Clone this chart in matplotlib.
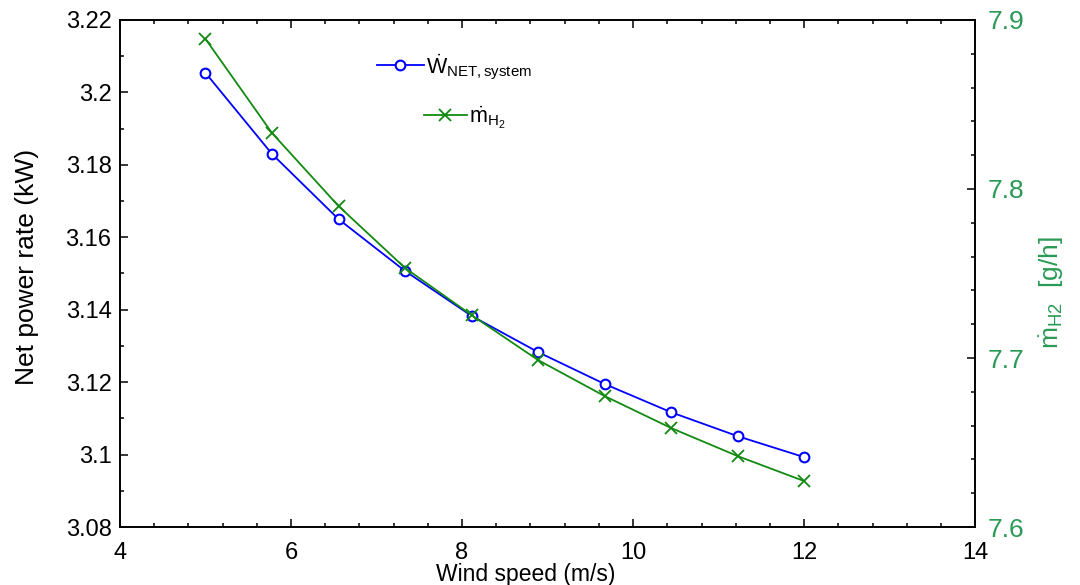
import numpy as np
import matplotlib
matplotlib.use("Agg")
from matplotlib import pyplot as plt
from matplotlib.ticker import MultipleLocator, FuncFormatter

plt.rcParams['font.family'] = ['Liberation Sans', 'DejaVu Sans']
plt.rcParams['mathtext.fontset'] = 'custom'
plt.rcParams['mathtext.rm'] = 'Liberation Sans'
plt.rcParams['mathtext.it'] = 'Liberation Sans'
plt.rcParams['mathtext.bf'] = 'Liberation Sans'

# data
wind_speed = [5.0, 5.778, 6.556, 7.333, 8.111, 8.889, 9.667, 10.444, 11.222, 12.0]
net_power = [3.2054, 3.1830, 3.1650, 3.1507, 3.1383, 3.1283, 3.1195, 3.1117, 3.1051, 3.0993]
m_h2 = [7.8888, 7.8331, 7.7899, 7.7533, 7.7254, 7.6988, 7.6775, 7.6586, 7.6420, 7.6272]

green_txt = '#2a9a55'
fig = plt.figure(figsize=(10.8, 5.85), dpi=100)
ax = fig.add_axes([0.111, 0.099, 0.792, 0.867])
ax2 = ax.twinx()

l1, = ax.plot(wind_speed, net_power, '-o', color='#0000ff', lw=1.3, ms=7,
              mfc='white', mec='#0000ff', mew=1.5,
              label=r'$\dot{\mathrm{W}}_{\mathrm{NET,system}}$')
l2, = ax2.plot(wind_speed, m_h2, '-x', color='#128a12', lw=1.3, ms=8, mew=1.3,
               label=r'$\dot{\mathrm{m}}_{\mathrm{H_2}}$')

ax.set_xlim(4, 14)
ax.set_ylim(3.08, 3.22)
ax2.set_ylim(7.6, 7.9)
ax.xaxis.set_major_locator(MultipleLocator(2))
ax.xaxis.set_minor_locator(MultipleLocator(0.4))
ax.yaxis.set_major_locator(MultipleLocator(0.02))
ax.yaxis.set_minor_locator(MultipleLocator(0.01))
ax2.yaxis.set_major_locator(MultipleLocator(0.1))
ax2.yaxis.set_minor_locator(MultipleLocator(0.02))
fmt = FuncFormatter(lambda v, p: '%g' % round(v, 4))
ax.yaxis.set_major_formatter(fmt)
ax2.yaxis.set_major_formatter(fmt)

ax.tick_params(which='both', direction='in', top=True, right=False, labelsize=17, width=1.1)
ax.tick_params(which='major', length=6)
ax.tick_params(which='minor', length=3)
ax.tick_params(axis='x', pad=11)
ax.tick_params(axis='y', pad=6)
ax2.tick_params(which='both', direction='in', labelsize=19, labelcolor=green_txt, width=1.1, pad=9)
ax2.tick_params(which='major', length=6)
ax2.tick_params(which='minor', length=3)

for a in (ax, ax2):
    for s in a.spines.values():
        s.set_linewidth(1.2)

ax.set_ylabel('Net power rate (kW)', fontsize=19)
ax.yaxis.set_label_coords(-0.094, 0.513)
ax.set_xlabel('Wind speed (m/s)', fontsize=16.5)
ax.xaxis.set_label_coords(0.475, -0.071)
ax2.set_ylabel(r'$\dot{\mathrm{m}}_{\mathrm{H2}}$  [g/h]', fontsize=19, color=green_txt,
               rotation=90)
ax2.yaxis.set_label_coords(1.072, 0.463)

leg1 = ax.legend(handles=[l1], loc='upper left', bbox_to_anchor=(0.29, 0.953),
                 frameon=False, fontsize=15.5, handlelength=2.2, handletextpad=0.1,
                 borderaxespad=0)
ax.add_artist(leg1)
ax.legend(handles=[l2], loc='upper left', bbox_to_anchor=(0.345, 0.85),
          frameon=False, fontsize=15.5, handlelength=2.0, handletextpad=0.1,
          borderaxespad=0)

fig.savefig('out.png', dpi=100)
